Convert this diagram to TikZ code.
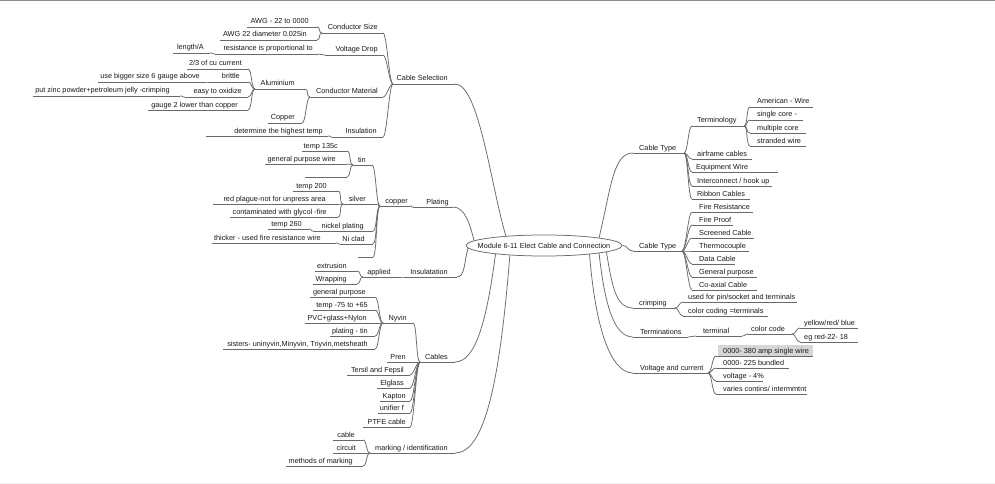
\documentclass[tikz,border=0pt]{standalone}
\usepackage{fontspec}
\setmainfont{Liberation Sans}
\usetikzlibrary{shapes.geometric}
\definecolor{lnc}{RGB}{105,105,105}
\definecolor{txc}{RGB}{25,25,25}
\definecolor{topc}{RGB}{140,140,140}
\definecolor{hil}{RGB}{214,214,214}
\tikzset{
  ul/.style={draw=lnc, line width=0.75pt},
  txt/.style={inner sep=0pt, text=txc, font=\fontsize{7.3}{8}\selectfont}
}
\newcommand\mnR[6]{%
  \coordinate (#1-l) at (#2,#4);
  \coordinate (#1-r) at (#3,#4);
  \draw[ul] (#1-l) -- (#1-r);
  \node[txt, anchor=base west] (#1) at (#5,#4-3) {#6};}
\newcommand\mnL[6]{%
  \coordinate (#1-l) at (#2,#4);
  \coordinate (#1-r) at (#3,#4);
  \draw[ul] (#1-l) -- (#1-r);
  \node[txt, anchor=base east] (#1) at (#5,#4-3) {#6};}
\newcommand\cR[2]{\draw[ul] (#1-r) .. controls ([xshift=4pt]#1-r) and ([xshift=-4pt]#2-l) .. (#2-l);}
\newcommand\cL[2]{\draw[ul] (#1-l) .. controls ([xshift=-4pt]#1-l) and ([xshift=4pt]#2-r) .. (#2-r);}
\begin{document}
\begin{tikzpicture}[x=1pt,y=-1pt]
\useasboundingbox (0,0) rectangle (995,484);
\fill[white] (0,0) rectangle (995,484);
\draw[topc, line width=1.5pt] (0,0.75) -- (995,0.75);
\draw[black!6, line width=1pt] (0,483.5) -- (995,483.5);

% root
\node[ellipse, draw=lnc, line width=0.75pt, minimum width=156pt, minimum height=21pt, inner sep=0pt, txt] (root) at (544,245.5) {\makebox[0pt]{Module 6-11 Elect Cable and Connection}};

% ---------------- right side ----------------
\mnR{ct1}{633}{684}{153}{639}{Cable Type}
\mnR{term}{692}{744}{126}{697}{Terminology}
\mnR{am}{750}{813}{107}{757}{American - Wire}
\mnR{sc}{750}{803}{120}{757}{single core -}
\mnR{mc}{750}{806}{133}{757}{multiple core}
\mnR{sw}{750}{806}{146}{757}{stranded wire}
\mnR{af}{692}{752}{159}{697}{airframe cables}
\mnR{ew}{692}{778}{172}{696}{Equipment Wire}
\mnR{ic}{692}{772}{186}{697}{Interconnect / hook up}
\mnR{rc}{692}{750}{199}{697}{Ribbon Cables}

\mnR{ct2}{633}{682}{251}{639}{Cable Type}
\mnR{fr}{692}{753}{212}{699}{Fire Resistance}
\mnR{fp}{692}{733}{225}{699}{Fire Proof}
\mnR{scab}{692}{754}{238}{699}{Screened Cable}
\mnR{th}{692}{749}{251}{699}{Thermocouple}
\mnR{dc}{692}{735}{264}{699}{Data Cable}
\mnR{gp}{692}{757}{277}{699}{General purpose}
\mnR{co}{692}{757}{290}{699}{Co-axial Cable}

\mnR{crimp}{633}{675}{308}{639}{crimping}
\mnR{up}{683}{797}{302}{688}{used for pin/socket and terminals}
\mnR{cc}{683}{768}{316}{688}{color coding =terminals}

\mnR{tm}{633}{688}{337}{640}{Terminations}
\mnR{tl}{696}{742}{336}{703}{terminal}
\mnR{ccode}{748}{792}{334}{751}{color code}
\mnR{yrb}{800}{858}{328}{804}{yellow/red/ blue}
\mnR{egr}{800}{858}{342}{804}{eg red-22- 18}

\mnR{vc}{633}{708}{373}{640}{Voltage and current}
\fill[hil] (718,345) rectangle (813,356);
\mnR{w380}{716}{813}{356}{723}{0000- 380 amp single wire}
\mnR{b225}{716}{789}{368}{723}{0000- 225 bundled}
\mnR{v4}{716}{763}{381}{723}{voltage - 4\%}
\mnR{var}{716}{807}{394}{723}{varies contins/ intermmtnt}

% ---------------- left side ----------------
\mnL{cs}{393}{455}{84}{448}{Cable Selection}
\mnL{csz}{322}{383}{33}{378}{Conductor Size}
\mnL{awga}{247}{317}{27}{309}{AWG - 22 to 0000}
\mnL{awgb}{220}{317}{40}{307}{AWG 22 diameter 0.025in}
\mnL{vd}{325}{383}{55}{378}{Voltage Drop}
\mnL{res}{215}{318}{54}{313}{resistance is proportional to}
\mnL{len}{173}{210}{53}{204}{length/A}
\mnL{cm}{310}{383}{97}{378}{Conductor Material}
\mnL{al}{255}{305}{89}{295}{Aluminium}
\mnL{cu23}{187}{248}{69}{242}{2/3 of cu current}
\mnL{br}{209}{248}{82}{240}{brittle}
\mnL{ubs}{98}{205}{82}{200}{use bigger size 6 gauge above}
\mnL{eo}{185}{248}{97}{242}{easy to oxidize}
\mnL{pz}{33}{180}{96}{170}{put zinc powder+petroleum jelly -crimping}
\mnL{gtwo}{148}{248}{110}{238}{gauge 2 lower than copper}
\mnL{cu}{268}{302}{123}{295}{Copper}
\mnL{ins}{332}{383}{137}{377}{Insulation}
\mnL{dht}{206}{328}{136}{323}{determine the highest temp}

\mnL{pl}{413}{453}{207}{449}{Plating}
\mnL{cop}{380}{410}{206}{408}{copper}
\mnL{tin}{353}{372}{165}{366}{tin}
\mnL{tone}{302}{347}{151}{338}{temp 135c}
\mnL{gpw}{265}{347}{164}{336}{general purpose wire}
\mnL{eone}{305}{347}{177}{340}{}
\mnL{sil}{343}{377}{204}{366}{silver}
\mnL{ttwo}{293}{338}{191}{327}{temp 200}
\mnL{rp}{213}{338}{204}{326}{red plague-not for unpress area}
\mnL{cg}{230}{338}{217}{327}{contaminated with glycol -fire}
\mnL{np}{313}{373}{231}{364}{nickel plating}
\mnL{tsix}{268}{309}{229}{302}{temp 260}
\mnL{nc}{340}{373}{244}{365}{Ni clad}
\mnL{thk}{212}{336}{243}{321}{thicker - used fire resistance wire}
\mnL{etwo}{358}{373}{257}{370}{}

\mnL{insu}{405}{457}{277}{448}{Insulatation}
\mnL{app}{363}{400}{277}{391}{applied}
\mnL{ext}{315}{357}{271}{347}{extrusion}
\mnL{wr}{313}{357}{284}{347}{Wrapping}

\mnL{cab}{420}{455}{362}{448}{Cables}
\mnL{ny}{383}{413}{323}{407}{Nyvin}
\mnL{gpc}{310}{375}{297}{366}{general purpose}
\mnL{tmp}{313}{375}{310}{368}{temp -75 to +65}
\mnL{pvc}{305}{375}{323}{367}{PVC+glass+Nylon}
\mnL{plt}{330}{375}{336}{368}{plating - tin}
\mnL{sis}{223}{375}{349}{368}{sisters- uninyvin,Minyvin, Triyvin,metsheath}
\mnL{pren}{387}{413}{362}{406}{Pren}
\mnL{tf}{347}{410}{375}{404}{Tersil and Fepsil}
\mnL{elg}{377}{410}{388}{404}{Elglass}
\mnL{kap}{380}{410}{401}{406}{Kapton}
\mnL{uf}{378}{410}{413}{404}{unifier f}
\mnL{ptfe}{363}{410}{427}{406}{PTFE cable}

\mnL{mk}{370}{455}{453}{448}{marking / identification}
\mnL{cabl}{333}{363}{440}{355}{cable}
\mnL{cir}{333}{363}{453}{356}{circuit}
\mnL{mom}{286}{363}{466}{353}{methods of marking}

% ---------------- connectors from root ----------------
\draw[ul] (root.8) .. controls +(12,-50) and +(-20,0) .. (ct1-l);
\draw[ul] (root.east) .. controls +(6,0) and +(-6,0) .. (ct2-l);
\draw[ul] (root.354.6) .. controls +(6,38) and +(-16,0) .. (crimp-l);
\draw[ul] (root.352.6) .. controls +(6,55) and +(-18,0) .. (tm-l);
\draw[ul] (root.349.5) .. controls +(6,75) and +(-22,0) .. (vc-l);
\draw[ul] (root.166.4) .. controls +(-15,-50) and +(24,0) .. (cs-r);
\draw[ul] (root.176.8) .. controls +(-4,-16) and +(12,0) .. (pl-r);
\draw[ul] (root.182.6) .. controls +(-4,14) and +(8,0) .. (insu-r);
\draw[ul] (root.190.1) .. controls +(-8,60) and +(22,0) .. (cab-r);
\draw[ul] (root.196.7) .. controls +(-10,125) and +(30,0) .. (mk-r);

% ---------------- right connectors ----------------
\cR{ct1}{term}\cR{ct1}{af}\cR{ct1}{ew}\cR{ct1}{ic}\cR{ct1}{rc}
\cR{term}{am}\cR{term}{sc}\cR{term}{mc}\cR{term}{sw}
\cR{ct2}{fr}\cR{ct2}{fp}\cR{ct2}{scab}\cR{ct2}{th}\cR{ct2}{dc}\cR{ct2}{gp}\cR{ct2}{co}
\cR{crimp}{up}\cR{crimp}{cc}
\cR{tm}{tl}\cR{tl}{ccode}\cR{ccode}{yrb}\cR{ccode}{egr}
\cR{vc}{w380}\cR{vc}{b225}\cR{vc}{v4}\cR{vc}{var}

% ---------------- left connectors ----------------
\cL{cs}{csz}\cL{cs}{vd}\cL{cs}{cm}\cL{cs}{ins}
\cL{csz}{awga}\cL{csz}{awgb}
\cL{vd}{res}\cL{res}{len}
\cL{cm}{al}\cL{cm}{cu}
\cL{al}{cu23}\cL{al}{br}\cL{al}{eo}\cL{al}{gtwo}
\cL{br}{ubs}\cL{eo}{pz}
\cL{ins}{dht}
\cL{pl}{cop}
\cL{cop}{tin}\cL{cop}{sil}\cL{cop}{np}\cL{cop}{nc}\cL{cop}{etwo}
\cL{tin}{tone}\cL{tin}{gpw}\cL{tin}{eone}
\cL{sil}{ttwo}\cL{sil}{rp}\cL{sil}{cg}
\cL{np}{tsix}\cL{nc}{thk}
\cL{insu}{app}\cL{app}{ext}\cL{app}{wr}
\cL{cab}{ny}\cL{cab}{pren}\cL{cab}{tf}\cL{cab}{elg}\cL{cab}{kap}\cL{cab}{uf}\cL{cab}{ptfe}
\cL{ny}{gpc}\cL{ny}{tmp}\cL{ny}{pvc}\cL{ny}{plt}\cL{ny}{sis}
\cL{mk}{cabl}\cL{mk}{cir}\cL{mk}{mom}
\end{tikzpicture}
\end{document}
